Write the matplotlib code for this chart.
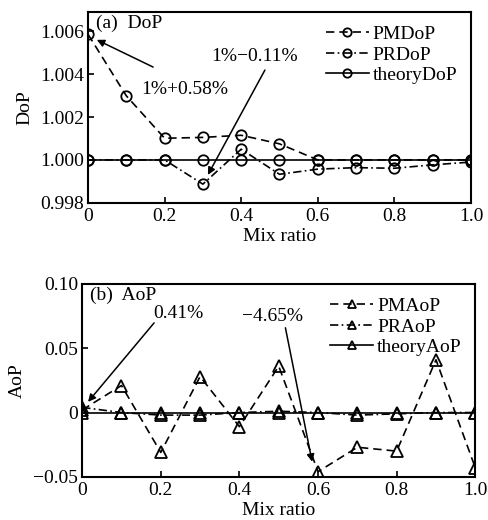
import matplotlib
matplotlib.use('Agg')
import matplotlib.pyplot as plt

plt.rcParams['font.family'] = ['Liberation Serif', 'DejaVu Serif']
plt.rcParams['font.size'] = 14
plt.rcParams['axes.linewidth'] = 1.5

# data
mix = [0, 0.1, 0.2, 0.3, 0.4, 0.5, 0.6, 0.7, 0.8, 0.9, 1.0]
pm_dop = [1.00586, 1.00299, 1.00101, 1.00105, 1.00115, 1.00075, 1.0000, 1.0000, 1.0000, 1.0000, 1.0000]
pr_dop = [1.0000, 1.0000, 1.0000, 0.99887, 1.0005, 0.99933, 0.99957, 0.99964, 0.99961, 0.99977, 0.9999]
th_dop = [1.0] * 11

pm_aop = [0.002, 0.021, -0.031, 0.028, -0.011, 0.036, -0.046, -0.027, -0.030, 0.041, -0.043]
pr_aop = [0.004, 0.0, -0.002, -0.002, 0.0, 0.001, 0.0, -0.002, -0.001, 0.0, 0.0]
th_aop = [0.0] * 11

x_ticks = [0, 0.2, 0.4, 0.6, 0.8, 1.0]
x_labels = ['0', '0.2', '0.4', '0.6', '0.8', '1.0']
dop_ticks = [0.998, 1.000, 1.002, 1.004, 1.006]
dop_labels = ['0.998', '1.000', '1.002', '1.004', '1.006']
aop_ticks = [-0.05, 0, 0.05, 0.10]
aop_labels = ['\u22120.05', '0', '0.05', '0.10']

fig = plt.figure(figsize=(4.89, 5.2), dpi=100)
ax1 = fig.add_axes([0.180, 0.610, 0.783, 0.367])
ax2 = fig.add_axes([0.168, 0.083, 0.804, 0.371])

mk = dict(markerfacecolor='none', markeredgecolor='k', markeredgewidth=1.3, color='k', lw=1.2)

# (a) DoP
ax1.plot(mix, pm_dop, marker='o', ms=7.5, linestyle=(0, (5, 3)), label='PMDoP', **mk)
ax1.plot(mix, pr_dop, marker='o', ms=7.5, linestyle=(0, (5, 2, 1, 2)), label='PRDoP', **mk)
ax1.plot(mix, th_dop, marker='o', ms=7.5, linestyle='-', label='theoryDoP', **mk)
ax1.set_xlim(0, 1.0)
ax1.set_ylim(0.998, 1.0069)
ax1.set_xticks(x_ticks)
ax1.set_xticklabels(x_labels)
ax1.set_yticks(dop_ticks)
ax1.set_yticklabels(dop_labels)
ax1.set_xlabel('Mix ratio', labelpad=2)
ax1.set_ylabel('DoP', labelpad=5)
ax1.text(0.02, 0.985, '(a)  DoP', transform=ax1.transAxes, va='top', ha='left')
ax1.legend(loc='upper right', frameon=False, handlelength=2.2, handletextpad=0.2,
           labelspacing=0.15, borderaxespad=0.3, markerscale=0.8)

arrow = dict(arrowstyle='-|>', color='k', lw=1.1, mutation_scale=11, shrinkA=0, shrinkB=0)
ax1.annotate('', xy=(0.023, 1.0056), xytext=(0.17, 1.00433), arrowprops=arrow)
ax1.text(0.253, 1.0033, '1%+0.58%', ha='center', va='center')
ax1.annotate('', xy=(0.313, 0.9993), xytext=(0.462, 1.00419), arrowprops=arrow)
ax1.text(0.436, 1.00484, '1%\u22120.11%', ha='center', va='center')

# (b) AoP
ax2.plot(mix, pm_aop, marker='^', ms=8, linestyle=(0, (5, 3)), label='PMAoP', **mk)
ax2.plot(mix, pr_aop, marker='^', ms=8, linestyle=(0, (5, 2, 1, 2)), label='PRAoP', **mk)
ax2.plot(mix, th_aop, marker='^', ms=8, linestyle='-', label='theoryAoP', **mk)
ax2.set_xlim(0, 1.0)
ax2.set_ylim(-0.05, 0.10)
ax2.set_xticks(x_ticks)
ax2.set_xticklabels(x_labels)
ax2.set_yticks(aop_ticks)
ax2.set_yticklabels(aop_labels)
ax2.set_xlabel('Mix ratio', labelpad=2)
ax2.set_ylabel('AoP', labelpad=5)
ax2.text(0.02, 0.985, '(b)  AoP', transform=ax2.transAxes, va='top', ha='left')
ax2.legend(loc='upper right', frameon=False, handlelength=2.2, handletextpad=0.2,
           labelspacing=0.15, borderaxespad=0.3, markerscale=0.8)

ax2.annotate('', xy=(0.015, 0.0083), xytext=(0.183, 0.0697), arrowprops=arrow)
ax2.text(0.244, 0.0768, '0.41%', ha='center', va='center')
ax2.annotate('', xy=(0.585, -0.0383), xytext=(0.517, 0.0659), arrowprops=arrow)
ax2.text(0.483, 0.0743, '\u22124.65%', ha='center', va='center')

for ax in (ax1, ax2):
    ax.tick_params(direction='in', length=4, width=1.2)
    ax.tick_params(axis='x', pad=4)
    ax.tick_params(axis='y', pad=3)

fig.savefig('out.png', dpi=100)
